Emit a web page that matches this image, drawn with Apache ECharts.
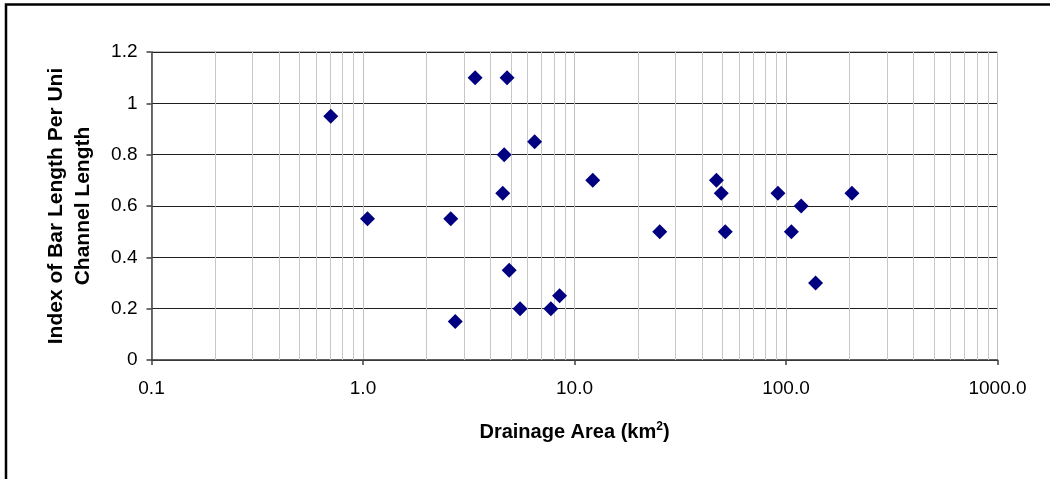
<!DOCTYPE html>
<html>
<head>
<meta charset="utf-8">
<title>Index of Bar Length vs Drainage Area</title>
<script src="https://cdn.jsdelivr.net/npm/echarts@6/dist/echarts.min.js"></script>
<style>
  html, body { margin: 0; padding: 0; background: #fff; }
  #chart { width: 1050px; height: 479px; }
</style>
</head>
<body>
<div id="chart"></div>
<script>
// Drainage area of each reach (km²)
const drainageArea = [0.704, 1.05, 2.6, 2.73, 3.39, 4.80, 4.65, 4.58, 4.91, 5.53, 6.48, 7.73, 8.50,
                      12.2, 25.3, 46.9, 49.4, 51.6, 91.6, 106, 118, 138, 205];
// Index of bar length per unit channel length for each reach
const barIndex = [0.95, 0.55, 0.55, 0.15, 1.1, 1.1, 0.8, 0.65, 0.35, 0.2, 0.85, 0.2, 0.25,
                  0.7, 0.5, 0.7, 0.65, 0.5, 0.65, 0.5, 0.6, 0.3, 0.65];

// Axis ranges
const xRange = [0.1, 1000];
const yRange = [0, 1.2];
const yStep = 0.2;

const points = drainageArea.map((a, i) => [a, barIndex[i]]);

// Minor log gridlines (2..9 within each decade)
const minorLines = [];
for (let d = Math.log10(xRange[0]); d < Math.log10(xRange[1]); d++) {
  for (let k = 2; k <= 9; k++) {
    minorLines.push({ xAxis: Number((k * Math.pow(10, d)).toPrecision(6)) });
  }
}

const FONT = '"Liberation Sans", Arial, sans-serif';

const chart = echarts.init(document.getElementById('chart'), null, { renderer: 'canvas' });
chart.setOption({
  animation: false,
  backgroundColor: '#ffffff',
  textStyle: { fontFamily: FONT },
  grid: {
    left: 151.5, right: 52.5, top: 52, bottom: 119,
    show: true, borderColor: '#808080', borderWidth: 1, backgroundColor: 'transparent'
  },
  graphic: [{
    type: 'rect',
    shape: { x: 6, y: 4.5, width: 1200, height: 700 },
    style: { fill: 'none', stroke: '#000', lineWidth: 2.5 },
    silent: true
  }],
  xAxis: {
    type: 'log',
    logBase: 10,
    min: xRange[0],
    max: xRange[1],
    name: 'Drainage Area (km{sup|2})',
    nameLocation: 'middle',
    nameGap: 61,
    nameTextStyle: {
      fontFamily: FONT, fontSize: 20, fontWeight: 'bold', color: '#000',
      rich: {
        sup: { fontFamily: FONT, fontSize: 12, fontWeight: 'bold', color: '#000', verticalAlign: 'top', padding: [0, 0, 10, 0] }
      }
    },
    axisLine: { show: true, lineStyle: { color: '#404040', width: 1.5 } },
    axisTick: { show: true, inside: false, length: 5, lineStyle: { color: '#404040', width: 1.5 } },
    axisLabel: {
      fontFamily: FONT, fontSize: 19, color: '#000', margin: 19,
      formatter: v => {
        const n = Number(v.toPrecision(6));
        return n < 1 ? String(n) : n.toFixed(1);
      }
    },
    splitLine: { show: true, lineStyle: { color: '#c0c0c0', width: 1 } },
    minorTick: { show: false },
    minorSplitLine: { show: false }
  },
  yAxis: {
    type: 'value',
    min: yRange[0],
    max: yRange[1],
    interval: yStep,
    name: 'Index of Bar Length Per Unit\nChannel Length',
    nameLocation: 'middle',
    nameRotate: 90,
    nameGap: 55,
    nameTruncate: { maxWidth: 279, ellipsis: '' },
    nameTextStyle: {
      fontFamily: FONT, fontSize: 21, fontWeight: 'bold', color: '#000',
      lineHeight: 27, align: 'center',
      width: 279, overflow: 'truncate', ellipsis: ''
    },
    axisLine: { show: true, lineStyle: { color: '#404040', width: 1.5 } },
    axisTick: { show: true, inside: false, length: 5, lineStyle: { color: '#404040', width: 1.5 } },
    axisLabel: { fontFamily: FONT, fontSize: 19, color: '#000', margin: 14 },
    splitLine: { show: true, lineStyle: { color: '#202020', width: 1 } }
  },
  series: [
    {
      type: 'line',
      data: [],
      z: 1,
      silent: true,
      markLine: {
        z: 1,
        silent: true,
        symbol: ['none', 'none'],
        label: { show: false },
        lineStyle: { color: '#c8c8c8', width: 1, type: 'solid' },
        emphasis: { disabled: true },
        data: minorLines
      }
    },
    {
      type: 'scatter',
      z: 3,
      symbol: 'diamond',
      symbolSize: 15,
      itemStyle: { color: '#000080', opacity: 1 },
      emphasis: { disabled: true },
      data: points
    }
  ]
});
</script>
</body>
</html>
